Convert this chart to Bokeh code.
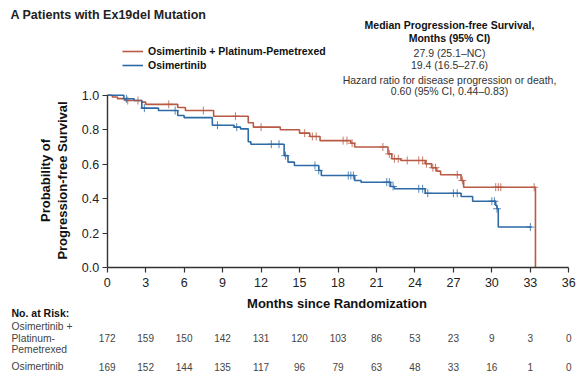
import numpy as np
from bokeh.plotting import figure
from bokeh.core.properties import value
from bokeh.models import (Range1d, FixedTicker, NumeralTickFormatter, Label, LabelSet,
                          ColumnDataSource, Legend, LegendItem)
from bokeh.embed import file_html
from bokeh.resources import INLINE

# ---------------- data ----------------
combo_name = "Osimertinib + Platinum-Pemetrexed"
mono_name = "Osimertinib"

combo_t = [0, 0.4, 0.8, 1.4, 2.7, 3.0, 5.5, 6.1, 8.3, 11.0, 11.4, 13.5, 15.0, 15.8, 16.6,
           19.0, 19.3, 21.9, 22.2, 22.9, 24.8, 25.3, 25.7, 26.0, 27.6, 27.8, 33.4]
combo_s = [1.0, 0.99, 0.98, 0.969, 0.96, 0.947, 0.929, 0.911, 0.878, 0.84, 0.815, 0.80, 0.78,
           0.761, 0.737, 0.722, 0.70, 0.66, 0.632, 0.622, 0.603, 0.58, 0.56, 0.539, 0.506,
           0.467, 0.0]
combo_cens = [1.6, 2.4, 4.8, 7.5, 10.0, 12.0, 15.4, 16.0, 16.3, 18.4, 18.7, 19.1, 21.5, 22.0,
              22.4, 22.7, 23.4, 24.3, 24.6, 24.9, 25.4, 25.6, 27.3, 27.7, 30.3, 30.5, 30.7, 33.3]

mono_t = [0, 1.3, 2.1, 2.7, 4.0, 5.5, 6.0, 8.2, 9.9, 10.4, 11.0, 11.2, 13.8, 14.1, 14.6, 16.5,
          16.7, 19.3, 19.8, 22.1, 22.4, 24.8, 27.6, 28.5, 30.3, 30.4, 30.5, 33.1]
mono_s = [1.0, 0.979, 0.969, 0.925, 0.911, 0.882, 0.87, 0.826, 0.815, 0.805, 0.73, 0.716, 0.65,
          0.612, 0.593, 0.564, 0.535, 0.506, 0.496, 0.471, 0.458, 0.432, 0.413, 0.386, 0.361,
          0.342, 0.236, 0.236]
mono_cens = [1.5, 2.9, 5.3, 8.6, 10.1, 12.8, 13.4, 13.9, 16.2, 16.5, 18.8, 19.0, 19.2, 21.8,
             22.0, 22.3, 24.3, 24.6, 25.0, 27.0, 27.3, 30.0, 30.2, 30.4, 33.0]

x_ticks = [0, 3, 6, 9, 12, 15, 18, 21, 24, 27, 30, 33, 36]
y_ticks = [0.0, 0.2, 0.4, 0.6, 0.8, 1.0]
risk_combo = [172, 159, 150, 142, 131, 120, 103, 86, 53, 23, 9, 3, 0]
risk_mono = [169, 152, 144, 135, 117, 96, 79, 63, 48, 33, 16, 1, 0]

title_text = "A  Patients with Ex19del Mutation"
x_title = "Months since Randomization"
y_title = ["Probability of", "Progression-free Survival"]
median_header = ["Median Progression-free Survival,", "Months (95% CI)"]
median_values = ["27.9 (25.1\u2013NC)", "19.4 (16.5\u201327.6)"]
hr_lines = ["Hazard ratio for disease progression or death,", "0.60 (95% CI, 0.44\u20130.83)"]
risk_title = "No. at Risk:"
risk_row_combo = ["Osimertinib +", "Platinum-", "Pemetrexed"]
risk_row_mono = "Osimertinib"

RED = "#b85a45"
BLUE = "#2d6aa6"
FONT = "Liberation Sans"

# ---------------- geometry (page px) ----------------
W, H = 584, 392
PX0, PX36 = 106.7, 568.3      # x of month 0 and month 36
PY1, PY0 = 94.7, 267.3        # y of survival 1.0 and 0.0
KX = (PX36 - PX0) / 36.0
KY = (PY0 - PY1)


def dx(px):
    return (px - PX0) / KX


def dy(py):
    return (PY0 - py) / KY


p = figure(width=W, height=H, x_range=Range1d(dx(0), dx(W)), y_range=Range1d(dy(H), dy(0)),
           output_backend="svg", toolbar_location=None,
           min_border_left=0, min_border_right=0, min_border_top=0, min_border_bottom=0)
p.outline_line_color = None
p.xgrid.visible = False
p.ygrid.visible = False
p.background_fill_color = "white"
p.border_fill_color = "white"

# axes, drawn at the data origin inside the frame
for ax in (p.xaxis[0], p.yaxis[0]):
    ax.fixed_location = 0
    ax.axis_line_color = "#333333"
    ax.axis_line_width = 1.4
    ax.major_tick_line_color = "#333333"
    ax.major_tick_line_width = 1.2
    ax.major_tick_in = 0
    ax.major_tick_out = 5
    ax.minor_tick_line_color = None
    ax.major_label_text_font = FONT
    ax.major_label_text_font_size = "12.5px"
    ax.major_label_text_color = "#222222"

p.xaxis.ticker = FixedTicker(ticks=x_ticks)
p.xaxis.bounds = (0, 36)
p.xaxis.major_label_standoff = 5

p.yaxis.ticker = FixedTicker(ticks=y_ticks)
p.yaxis.formatter = NumeralTickFormatter(format="0.0")
p.yaxis.bounds = (0, 1)
p.yaxis.major_label_standoff = 3


def add_text(px, py, txt, size, style="normal", color="#222222", align="left", angle=0.0):
    p.add_layout(Label(x=dx(px), y=dy(py), text=txt, text_font=FONT, text_font_size=size,
                       text_font_style=style, text_color=color, text_align=align,
                       text_baseline="middle", angle=angle))


# axis titles
add_text(336.5, 303, x_title, "13px", "bold", "#111111", "center")
add_text(45, 180, y_title[0], "13px", "bold", "#111111", "center", np.pi / 2)
add_text(61.7, 180, y_title[1], "13px", "bold", "#111111", "center", np.pi / 2)

# curves
r_combo = p.step(combo_t, combo_s, mode="after", line_color=RED, line_width=1.6)
r_mono = p.step(mono_t, mono_s, mode="after", line_color=BLUE, line_width=1.6)


def surv_at(ts, ss, cs):
    ts = np.asarray(ts)
    ss = np.asarray(ss)
    idx = np.searchsorted(ts, np.asarray(cs), side="right") - 1
    return ss[idx]


p.scatter(combo_cens, surv_at(combo_t, combo_s, combo_cens), marker="cross", size=8,
          line_color=RED, line_width=1, line_alpha=0.8)
p.scatter(mono_cens, surv_at(mono_t, mono_s, mono_cens), marker="cross", size=8,
          line_color=BLUE, line_width=1, line_alpha=0.8)

# legend above the curves
legend = Legend(items=[LegendItem(label=combo_name, renderers=[r_combo]),
                       LegendItem(label=mono_name, renderers=[r_mono])],
                location=(122, H - 72),
                glyph_width=21, glyph_height=14, label_height=14, label_standoff=5,
                spacing=0, padding=0, margin=0,
                border_line_color=None, background_fill_alpha=0,
                label_text_font=FONT, label_text_font_size="10.5px",
                label_text_font_style="bold", label_text_color="#111111")
p.add_layout(legend, "center")

# title
add_text(10, 14, title_text, "12.5px", "bold", "#222222")

# median / hazard ratio text
lines = [(median_header[0], 24, "bold"), (median_header[1], 37, "bold"),
         (median_values[0], 52.5, "normal"), (median_values[1], 64.7, "normal"),
         (hr_lines[0], 79, "normal"), (hr_lines[1], 90.5, "normal")]
for txt, py, style in lines:
    add_text(449, py, txt, "10.5px", style, "#111111" if style == "bold" else "#333333",
             "center")

# number at risk table
add_text(11, 312.7, risk_title, "10.5px", "bold", "#111111")
for txt, py in zip(risk_row_combo, (326, 337.7, 348.7)):
    add_text(11, py, txt, "10.3px", "normal", "#444444")
add_text(11, 366, risk_row_mono, "10.3px", "normal", "#444444")

for counts, py in ((risk_combo, 337.7), (risk_mono, 366)):
    src = ColumnDataSource(dict(x=x_ticks, y=[dy(py)] * len(x_ticks),
                                t=[str(c) for c in counts]))
    p.add_layout(LabelSet(x="x", y="y", text="t", source=src, text_font=value(FONT),
                          text_font_size=value("10px"), text_color=value("#444444"),
                          text_align="center", text_baseline="middle"))

open("out.html", "w").write(file_html(p, INLINE))
